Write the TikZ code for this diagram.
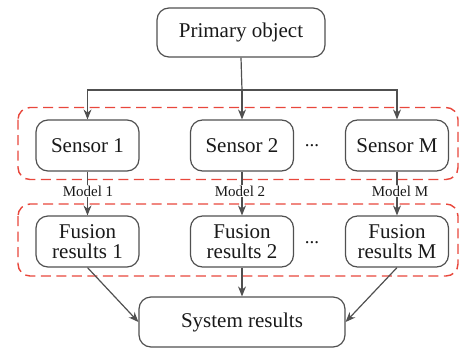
\documentclass[tikz,border=0pt]{standalone}
\usepackage{fontspec}
\setmainfont{Liberation Serif}
\usetikzlibrary{arrows.meta,positioning}
\definecolor{linegray}{HTML}{505050}
\definecolor{dashred}{HTML}{E8473C}
\tikzset{
  box/.style={draw=linegray, line width=1.2pt, rounded corners=12pt, minimum width=103pt, minimum height=51pt, align=center, font=\fontsize{21}{20.5}\selectfont, text=black!90, inner sep=2pt},
  arr/.style={draw=linegray, line width=1.2pt, -{Stealth[length=10pt,width=8pt]}},
  ln/.style={draw=linegray, line width=1.2pt},
  grp/.style={draw=dashred, line width=1.4pt, dash pattern=on 10pt off 5.5pt, rounded corners=12pt},
  lbl/.style={font=\fontsize{15}{16}\selectfont, text=black!90, inner sep=1pt},
  dots/.style={font=\fontsize{19}{19}\selectfont, text=black!90}
}
\begin{document}
\begin{tikzpicture}[x=1pt,y=-1pt]
\useasboundingbox (0,0) rectangle (460,351);
\node[box, minimum width=168pt, minimum height=49pt] (prim) at (241,32.5) {Primary object};
\node[box] (s1) at (87.5,145.5) {Sensor 1};
\node[box] (s2) at (242,145.5) {Sensor 2};
\node[box] (sM) at (397,145.5) {Sensor M};
\node[dots] (d1) at (312,146) {...};
\node[box] (f1) at (87.5,241.5) {Fusion\\results 1};
\node[box] (f2) at (242,241.5) {Fusion\\results 2};
\node[box] (fM) at (397,241.5) {Fusion\\results M};
\node[dots] (d2) at (312,243) {...};
\node[box, minimum width=206pt, minimum height=50pt] (sys) at (242,322) {System results};
\node[lbl] (m1) at (88,191) {Model 1};
\node[lbl] (m2) at (240,191) {Model 2};
\node[lbl] (mM) at (400,191) {Model M};
\draw[grp] (18,107.5) rectangle (458,179.5);
\draw[grp] (18,204) rectangle (458,276);
\coordinate (j) at (242,90);
\draw[ln] (prim.south) -- (j);
\draw[arr] (j) -| (s1.north);
\draw[arr] (j) -- (s2.north);
\draw[arr] (j) -| (sM.north);
\draw[ln] (s1.south) -- (s1.south |- m1.north);
\draw[ln] (s2.south) -- (s2.south |- m2.north);
\draw[ln] (sM.south) -- (sM.south |- mM.north);
\draw[arr] (f1.north |- m1.south) -- (f1.north);
\draw[arr] (f2.north |- m2.south) -- (f2.north);
\draw[arr] (fM.north |- mM.south) -- (fM.north);
\draw[arr] (f1.south) -- (sys.west);
\draw[arr] (f2.south) -- (sys.north);
\draw[arr] (fM.south) -- (sys.east);
\end{tikzpicture}
\end{document}
